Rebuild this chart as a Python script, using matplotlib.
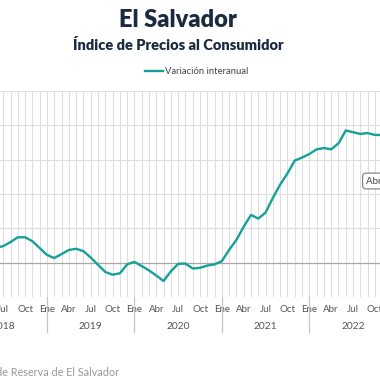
import numpy as np
import matplotlib.pyplot as plt
from matplotlib.transforms import blended_transform_factory

plt.rcParams['font.family'] = ['Lato', 'DejaVu Sans']

# IPC El Salvador, variacion interanual (%), junio 2018 - noviembre 2022
anio_inicio, mes_inicio = 2018, 6
variacion = [0.85, 0.97, 1.2, 1.48, 1.48, 1.25, 0.85,
             0.45, 0.27, 0.5, 0.74, 0.81, 0.67, 0.3, -0.12, -0.54, -0.7, -0.62, -0.1,
             0.05, -0.2, -0.45, -0.75, -1.07, -0.5, -0.07, -0.05, -0.34, -0.3, -0.17, -0.1,
             0.09, 0.75, 1.33, 2.1, 2.78, 2.57, 2.92, 3.78, 4.55, 5.2, 5.95, 6.12,
             6.33, 6.6, 6.68, 6.6, 6.95, 7.7, 7.6, 7.5, 7.55, 7.44, 7.44]
meses = ['Ene', 'Feb', 'Mar', 'Abr', 'May', 'Jun',
         'Jul', 'Ago', 'Sep', 'Oct', 'Nov', 'Dic']
anios = [2018, 2019, 2020, 2021, 2022]
yticks = [0, 2, 4, 6, 8, 10]

teal = '#17a09a'
navy = '#1b2a41'

# months counted from Jan 2018
x = (anio_inicio - 2018) * 12 + (mes_inicio - 1) + np.arange(len(variacion))

fig = plt.figure(figsize=(3.8, 3.8), dpi=100)
ax = fig.add_axes([0, 0.2184, 1, 0.5421])

ax.plot(x, variacion, color=teal, lw=1.7, solid_joinstyle='round',
        label='Variación interanual', zorder=3)

ticks = np.arange(0, 12 * len(anios))
ax.set_xticks(ticks)
ax.set_xticklabels([meses[t % 12] if t % 3 == 0 else '' for t in ticks])
ax.set_yticks(yticks)
ax.set_yticklabels([])
ax.set_xlim(5.55, 57.7)
ax.set_ylim(-2, 10)
ax.tick_params(axis='both', length=0)
ax.tick_params(axis='x', pad=5.5, labelsize=7, labelcolor='#555555')
ax.grid(True, color='#dedede', lw=0.8)
ax.axhline(0, color='#a8a8a8', lw=0.9, zorder=2)
for s in ax.spines.values():
    s.set_visible(False)

# year separators and labels under the month labels
tr = blended_transform_factory(ax.transData, ax.transAxes)
for i, a in enumerate(anios):
    m = i * 12
    if i > 0:
        ax.plot([m, m], [0, -0.17], transform=tr, color='#c4c4c4',
                lw=0.9, clip_on=False)
    ax.text(m + 6, -0.141, str(a), transform=tr, ha='center', va='center',
            fontsize=7.4, color='#555555')
ax.set_xlim(5.55, 57.7)

fig.text(0.468, 1 - 20 / 380, 'El Salvador', ha='center', va='center',
         fontsize=17, fontweight='heavy', color=navy)
fig.text(0.468, 1 - 45 / 380, 'Índice de Precios al Consumidor', ha='center',
         va='center', fontsize=10.5, fontweight='heavy', color=navy)

fig.legend(loc='center', bbox_to_anchor=(0.518, 1 - 72 / 380), frameon=False,
           fontsize=6.8, handlelength=1.9, handletextpad=0.15,
           labelcolor='#444444')

fig.text(366 / 380, 1 - 181 / 380, 'Abr 2022: 6.6 %', ha='left', va='center',
         fontsize=7, color='#444444',
         bbox=dict(boxstyle='round,pad=0.35', fc='white', ec='#888888', lw=0.9))

fig.text(119 / 380, 1 - 373 / 380,
         'Fuente: Banco Central de Reserva de El Salvador',
         ha='right', va='center', fontsize=7.8, color='#999999')

fig.savefig('out.png', dpi=100)
